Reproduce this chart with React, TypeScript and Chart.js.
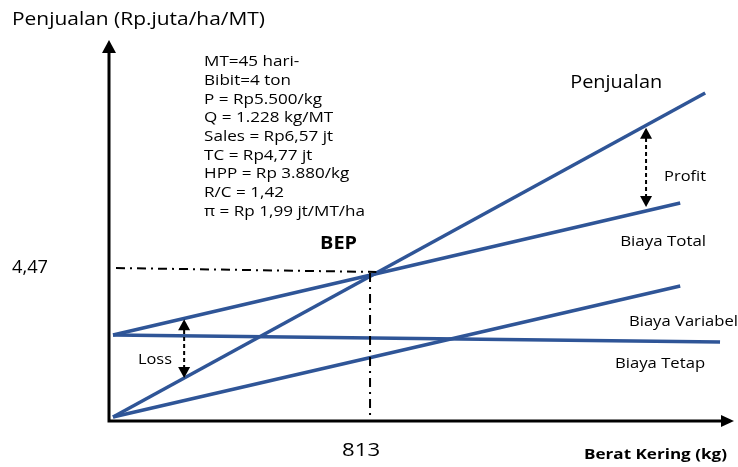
import React, { useEffect, useRef } from "react";
import { Chart, registerables } from "chart.js";
Chart.register(...registerables);

// ---- data (x: kg berat kering, y: Rp juta/ha/MT) ----
const penjualanX = [0, 1873];
const penjualanY = [0, 9.72];
const biayaTotalX = [0, 1794];
const biayaTotalY = [2.46, 6.42];
const biayaTetapX = [0, 1920];
const biayaTetapY = [2.46, 2.25];
const biayaVariabelX = [0, 1794];
const biayaVariabelY = [0, 3.93];
const bepX = 813;
const bepY = 4.47;
const xTickLabels = ["813"];
const yTickLabels = ["4,47"];
const infoLines = [
  "MT=45 hari-",
  "Bibit=4 ton",
  "P = Rp5.500/kg",
  "Q = 1.228 kg/MT",
  "Sales = Rp6,57 jt",
  "TC = Rp4,77 jt",
  "HPP = Rp 3.880/kg",
  "R/C = 1,42",
  "π = Rp 1,99 jt/MT/ha",
];
const lossArrow = { x: 225, from: 1.17, to: 2.93 };
const profitArrow = { x: 1686, from: 6.3, to: 8.68 };

const BLUE = "#2F5597";
const FONT = "'Open Sans', 'Noto Sans', sans-serif";

const pts = (xs: number[], ys: number[]) => xs.map((x, i) => ({ x, y: ys[i] }));

export default function App() {
  const ref = useRef<HTMLCanvasElement | null>(null);
  useEffect(() => {
    if (!ref.current) return;
    const deco = {
      id: "deco",
      afterDatasetsDraw(chart: any) {
        const { ctx, chartArea: a, scales } = chart;
        const xs = scales.x, ys = scales.y;
        const px = (v: number) => xs.getPixelForValue(v);
        const py = (v: number) => ys.getPixelForValue(v);
        ctx.save();
        // dash-dot guides
        ctx.strokeStyle = "#000";
        ctx.lineWidth = 2;
        ctx.setLineDash([9, 5, 2, 5]);
        ctx.beginPath();
        ctx.moveTo(px(0) + 3, py(bepY));
        ctx.lineTo(px(bepX + 20), py(bepY - 0.12));
        ctx.stroke();
        ctx.beginPath();
        ctx.moveTo(px(bepX), py(bepY - 0.15));
        ctx.lineTo(px(bepX), a.bottom);
        ctx.stroke();
        // dashed double arrows
        const dArrow = (x: number, y0: number, y1: number) => {
          const X = px(x), Y0 = py(y0), Y1 = py(y1);
          ctx.setLineDash([4, 3]);
          ctx.lineWidth = 2;
          ctx.beginPath();
          ctx.moveTo(X, Y0 - 9);
          ctx.lineTo(X, Y1 + 9);
          ctx.stroke();
          ctx.setLineDash([]);
          ctx.fillStyle = "#000";
          ctx.beginPath();
          ctx.moveTo(X, Y1);
          ctx.lineTo(X - 6, Y1 + 11);
          ctx.lineTo(X + 6, Y1 + 11);
          ctx.closePath();
          ctx.fill();
          ctx.beginPath();
          ctx.moveTo(X, Y0);
          ctx.lineTo(X - 6, Y0 - 11);
          ctx.lineTo(X + 6, Y0 - 11);
          ctx.closePath();
          ctx.fill();
        };
        dArrow(lossArrow.x, lossArrow.from, lossArrow.to);
        dArrow(profitArrow.x, profitArrow.from, profitArrow.to);
        // axes
        ctx.setLineDash([]);
        ctx.lineWidth = 3;
        ctx.strokeStyle = "#000";
        ctx.fillStyle = "#000";
        ctx.beginPath();
        ctx.moveTo(a.left, a.bottom);
        ctx.lineTo(a.left, a.top + 10);
        ctx.moveTo(a.left - 1.5, a.bottom);
        ctx.lineTo(a.right - 10, a.bottom);
        ctx.stroke();
        ctx.beginPath();
        ctx.moveTo(a.left, a.top);
        ctx.lineTo(a.left - 7, a.top + 13);
        ctx.lineTo(a.left + 7, a.top + 13);
        ctx.closePath();
        ctx.fill();
        ctx.beginPath();
        ctx.moveTo(a.right + 1, a.bottom);
        ctx.lineTo(a.right - 12, a.bottom - 6);
        ctx.lineTo(a.right - 12, a.bottom + 6);
        ctx.closePath();
        ctx.fill();
        // texts (stretched horizontally to the original's letter widths)
        ctx.fillStyle = "#000";
        ctx.textBaseline = "middle";
        ctx.textAlign = "left";
        const t = (s: string, x: number, y: number, size: number, w: number, bold = false, sx?: number) => {
          ctx.font = `${bold ? "bold " : ""}${size}px ${FONT}`;
          const m = ctx.measureText(s).width;
          const k = sx ?? w / m;
          ctx.save();
          ctx.translate(x, y);
          ctx.scale(k, 1);
          ctx.fillText(s, 0, 0);
          ctx.restore();
        };
        t("Penjualan (Rp.juta/ha/MT)", 12, 20, 18, 253);
        t(yTickLabels[0], 12, py(bepY), 18, 36);
        t(xTickLabels[0], px(bepX) - 28, 451, 18, 38);
        t("Berat Kering (kg)", 584, 455, 15, 143, true);
        ctx.font = `15px ${FONT}`;
        const kInfo = 161 / ctx.measureText(infoLines[infoLines.length - 1]).width;
        infoLines.forEach((s, i) => t(s, px(288), py(10.65) + i * 18.7, 15, 0, false, kInfo));
        t("BEP", px(655), py(5.19), 17, 37, true);
        t("Penjualan", px(1446), py(10.02), 18, 92);
        t("Profit", px(1743), py(7.2), 15, 42);
        t("Biaya Total", px(1604), py(5.25), 15, 86);
        t("Biaya Variabel", px(1632), py(2.85), 15, 109);
        t("Biaya Tetap", px(1588), py(1.59), 15, 90);
        t("Loss", px(79), py(1.71), 15, 34);
        ctx.restore();
      },
    };
    const ds = (xs: number[], ys: number[], w = 3.5) => ({
      data: pts(xs, ys),
      showLine: true,
      borderColor: BLUE,
      borderWidth: w,
      pointRadius: 0,
      fill: false,
      clip: false as any,
    });
    const chart = new Chart(ref.current, {
      type: "scatter",
      data: {
        datasets: [
          { label: "Penjualan", ...ds(penjualanX, penjualanY) },
          { label: "Biaya Total", ...ds(biayaTotalX, biayaTotalY) },
          { label: "Biaya Tetap", ...ds(biayaTetapX, biayaTetapY) },
          { label: "Biaya Variabel", ...ds(biayaVariabelX, biayaVariabelY) },
        ],
      },
      options: {
        animation: false,
        responsive: false,
        maintainAspectRatio: false,
        layout: { padding: { left: 109, right: 5, top: 40, bottom: 46 } },
        plugins: { legend: { display: false }, tooltip: { enabled: false } },
        scales: {
          x: { type: "linear", display: false, min: -12.65, max: 1961 },
          y: { type: "linear", display: false, min: -0.12, max: 11.31 },
        },
      },
      plugins: [deco],
    });
    return () => chart.destroy();
  }, []);
  return (
    <div style={{ position: "fixed", left: 0, top: 0, width: 738, height: 467, background: "#fff" }}>
      <canvas ref={ref} width={738} height={467} style={{ display: "block" }} />
    </div>
  );
}
